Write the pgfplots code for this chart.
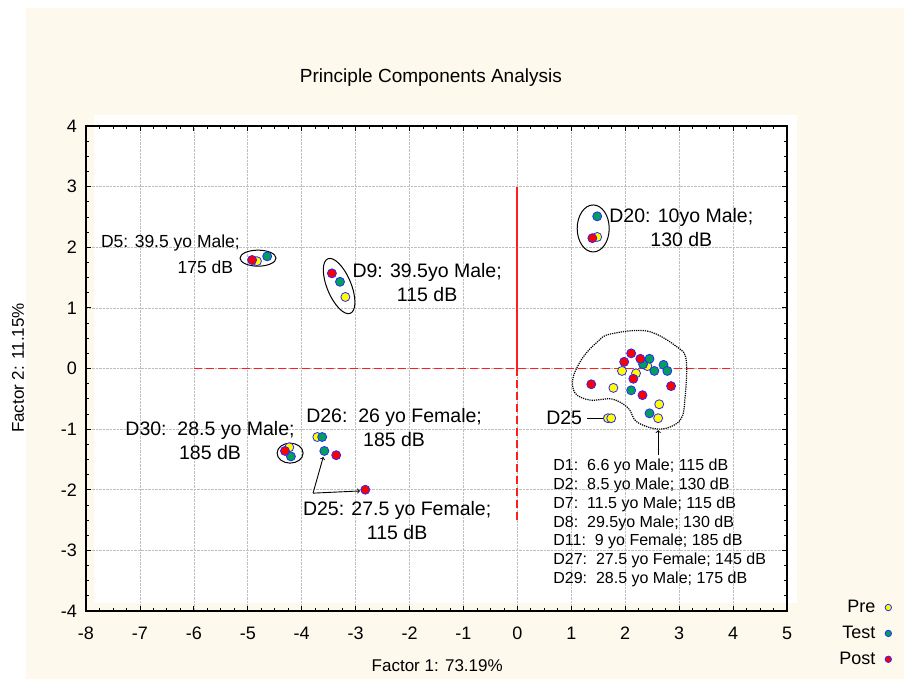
\documentclass[border=0pt]{standalone}
\usepackage{pgfplots}
\usepackage{pgfplotstable}
\pgfplotsset{compat=1.18}
\usepackage{fontspec}
\setmainfont{Liberation Sans}

\definecolor{cream}{RGB}{254,249,237}
\definecolor{ptyellow}{RGB}{255,255,0}
\definecolor{ptgreen}{RGB}{0,160,90}
\definecolor{ptred}{RGB}{255,0,0}
\definecolor{ptedge}{RGB}{40,40,255}
\definecolor{guide}{RGB}{255,30,30}

% factor scores: Factor 1 (x), Factor 2 (y)
\pgfplotstableread{
x y
-4.83 1.77
-3.19 1.18
1.48 2.17
-4.23 -1.30
-3.71 -1.13
1.68 -0.82
1.74 -0.82
2.41 0.04
1.94 -0.04
2.20 -0.08
1.78 -0.32
2.63 -0.59
2.61 -0.82
}\pretable
\pgfplotstableread{
x y
-4.64 1.85
-3.29 1.43
1.48 2.51
-4.20 -1.45
-3.62 -1.13
-3.58 -1.36
2.45 0.16
2.33 0.07
2.71 0.06
2.54 -0.04
2.78 -0.04
2.11 -0.36
2.45 -0.74
}\testtable
\pgfplotstableread{
x y
-4.92 1.79
-3.44 1.57
1.39 2.15
-4.31 -1.36
-3.36 -1.43
-2.82 -2.00
2.11 0.25
1.98 0.11
2.28 0.16
2.15 -0.17
1.37 -0.26
2.32 -0.44
2.85 -0.29
}\posttable

\newcommand{\labfont}{\fontsize{19.5}{24}\selectfont}
\newcommand{\listfont}{\fontsize{16}{18.7}\selectfont}

\begin{document}
\begin{tikzpicture}[x=1pt,y=1pt]
\useasboundingbox (0,0) rectangle (904,679);
\fill[cream] (26,0) rectangle (904,671);
\fill[white] (94,76) rectangle (797,564);
\begin{axis}[
  at={(86pt,68pt)}, anchor=south west,
  scale only axis, width=701pt, height=485pt,
  xmin=-8, xmax=5, ymin=-4, ymax=4,
  xtick={-8,...,5}, ytick={-4,...,4},
  minor x tick num=3, minor y tick num=3,
  tick align=inside,
  major tick length=5pt, minor tick length=3pt,
  axis line style={line width=1.3pt},
  every tick/.style={black, line width=0.8pt},
  grid=major,
  major grid style={densely dotted, black!25, line width=0.6pt},
  /pgf/number format/assume math mode=true,
  tick label style={font=\fontsize{18}{21}\selectfont},
  x tick label style={yshift=-12.7pt},
  y tick label style={xshift=-5.7pt},
  clip=false,
  title={Principle Components Analysis},
  title style={at={(axis description cs:0.492,1.088)}, anchor=center, font=\fontsize{19}{22}\selectfont},
  xlabel={Factor 1: 73.19\%},
  ylabel={Factor 2: 11.15\%},
  x label style={at={(axis description cs:0.501,-0.113)}, anchor=center, font=\fontsize{17}{20}\selectfont},
  y label style={at={(axis description cs:-0.097,0.501)}, anchor=center, rotate=0, font=\fontsize{17}{20}\selectfont},
  legend style={at={(axis description cs:1.1494,0.026)}, anchor=north east,
    draw=none, fill=none, font=\fontsize{18}{22}\selectfont,
    row sep=8pt, inner sep=0pt},
  legend cell align=right,
  legend plot pos=right,
  legend image code/.code={%
    \path[draw=none, fill=none] (0pt,-3pt) rectangle (14pt,3pt);
    \draw[#1, mark size=3.2pt] plot coordinates {(11pt,0pt)};},
]
% reference lines through the origin
\addplot[color=guide, line width=1.8pt, dash pattern=on 8pt off 4pt, forget plot] coordinates {(-6,0) (4,0)};
\addplot[color=guide, line width=1.8pt, dash pattern=on 8pt off 4pt, forget plot] coordinates {(0,0) (0,-2.5)};
\addplot[color=guide, line width=2pt, dash pattern=on 400pt off 0pt, forget plot] coordinates {(0,0) (0,3)};

% group outlines
\draw[line width=1pt] (axis cs:-4.81,1.82) ellipse [x radius=18pt, y radius=8pt];
\draw[line width=1pt, rotate around={-67.5:(axis cs:-3.306,1.36)}] (axis cs:-3.306,1.36) ellipse [x radius=29.5pt, y radius=12pt];
\draw[line width=1pt] (axis cs:1.406,2.31) ellipse [x radius=16pt, y radius=23.5pt];
\draw[line width=1pt] (axis cs:-4.215,-1.396) ellipse [x radius=13pt, y radius=10pt];
\draw[line width=1.2pt, densely dotted] plot[smooth cycle, tension=0.6] coordinates {
  (axis cs:1.72,0.568) (axis cs:2.41,0.617) (axis cs:2.965,0.353) (axis cs:3.13,0.139)
  (axis cs:3.11,-0.472) (axis cs:3.02,-0.851) (axis cs:2.65,-1.0) (axis cs:2.22,-0.884)
  (axis cs:2.056,-0.653) (axis cs:1.76,-0.505) (axis cs:1.35,-0.521) (axis cs:1.07,-0.406)
  (axis cs:1.035,-0.142) (axis cs:1.22,0.188) (axis cs:1.48,0.436)};

% scores
\addplot[only marks, mark=*, mark size=4.5pt, mark options={draw=ptedge, fill=ptyellow, line width=0.8pt}] table {\pretable};
\addlegendentry{Pre}
\addplot[only marks, mark=*, mark size=4.5pt, mark options={draw=ptedge, fill=ptgreen, line width=0.8pt}] table {\testtable};
\addlegendentry{Test}
\addplot[only marks, mark=*, mark size=4.5pt, mark options={draw=ptedge, fill=ptred, line width=0.8pt}] table {\posttable};
\addlegendentry{Post}

% annotations
\node[font=\fontsize{17.5}{22}\selectfont, inner sep=0, anchor=east] at (axis cs:-5.143,2.07) {D5: 39.5 yo Male;};
\node[font=\fontsize{17.5}{22}\selectfont, inner sep=0, anchor=east] at (axis cs:-5.27,1.67) {175 dB};
\node[align=center, font=\labfont, inner sep=0] at (axis cs:-1.673,1.41) {D9: 39.5yo Male;\\115 dB};
\node[align=center, font=\labfont, inner sep=0] at (axis cs:3.04,2.317) {D20: 10yo Male;\\130 dB};
\node[align=center, font=\labfont, inner sep=0] at (axis cs:-5.70,-1.18) {D30:\ \ 28.5 yo Male;\\185 dB};
\node[align=center, font=\labfont, inner sep=0] at (axis cs:-2.286,-0.967) {D26:\ \ 26 yo Female;\\185 dB};
\node[align=center, font=\labfont, inner sep=0] at (axis cs:-2.23,-2.50) {D25: 27.5 yo Female;\\115 dB};
\node[font=\labfont, inner sep=0] at (axis cs:0.868,-0.818) {D25};
\node[align=left, font=\listfont, inner sep=0, anchor=north west] at (axis cs:0.664,-1.495)
  {D1:\ \ 6.6 yo Male; 115 dB\\D2:\ \ 8.5 yo Male; 130 dB\\D7:\ \ 11.5 yo Male; 115 dB\\D8:\ \ 29.5yo Male; 130 dB\\D11:\ \ 9 yo Female; 185 dB\\D27:\ \ 27.5 yo Female; 145 dB\\D29:\ \ 28.5 yo Male; 175 dB};

\draw[->, line width=0.9pt] (axis cs:1.295,-0.818) -- (axis cs:1.648,-0.818);
\draw[->, line width=0.9pt] (axis cs:2.612,-1.43) -- (axis cs:2.612,-1.017);
\draw[->, line width=0.9pt] (axis cs:-3.79,-2.056) -- (axis cs:-3.60,-1.46);
\draw[->, line width=0.9pt] (axis cs:-3.79,-2.056) -- (axis cs:-2.92,-2.02);
\end{axis}
\end{tikzpicture}
\end{document}
